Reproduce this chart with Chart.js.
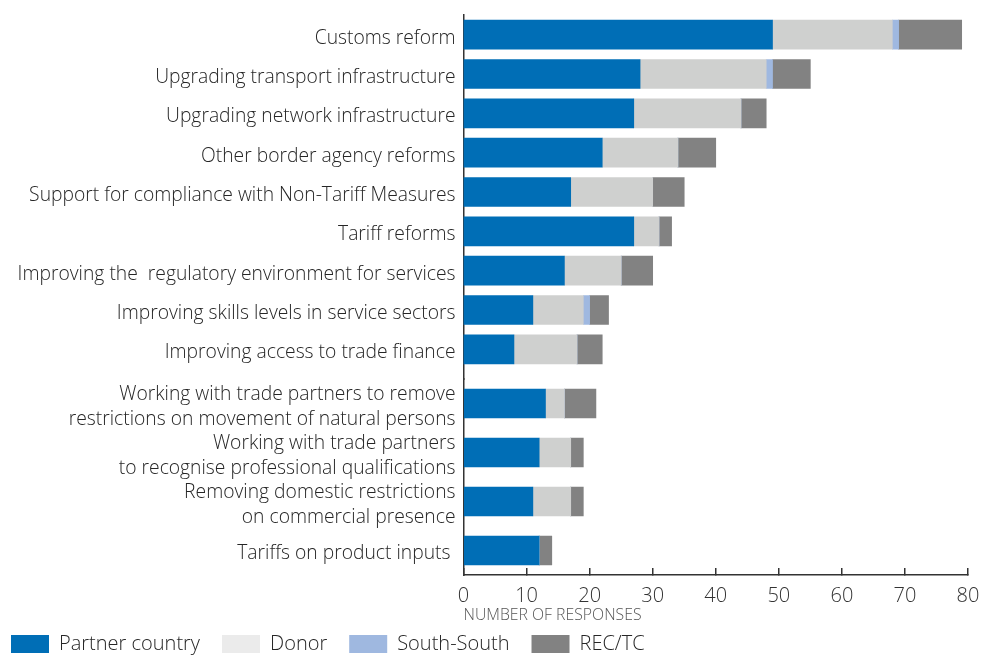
<!DOCTYPE html>
<html><head><meta charset="utf-8">
<script src="https://cdn.jsdelivr.net/npm/chart.js@4.4.1/dist/chart.umd.min.js"></script>
<style>
html,body{margin:0;padding:0;background:#fff;width:989px;height:656px;overflow:hidden}
#wrapA{position:absolute;left:0;top:0;width:989px;height:369px}
#wrapB{position:absolute;left:-11px;top:369px;width:1000px;height:295px}
</style></head><body>
<div id="wrapA"><canvas id="a"></canvas></div>
<div id="wrapB"><canvas id="b"></canvas></div>
<script>
const categories = [
  "Customs reform",
  "Upgrading transport infrastructure",
  "Upgrading network infrastructure",
  "Other border agency reforms",
  "Support for compliance with Non-Tariff Measures",
  "Tariff reforms",
  "Improving the  regulatory environment for services",
  "Improving skills levels in service sectors",
  "Improving access to trade finance",
  ["Working with trade partners to remove", "restrictions on movement of natural persons"],
  ["Working with trade partners", "to recognise professional qualifications"],
  ["Removing domestic restrictions", "on commercial presence"],
  "Tariffs on product inputs "
];
const partnerCountry = [49, 28, 27, 22, 17, 27, 16, 11, 8, 13, 12, 11, 12];
const donor          = [19, 20, 17, 12, 13,  4,  9,  8, 10,  3,  5,  6,  0];
const southSouth     = [ 1,  1,  0,  0,  0,  0,  0,  1,  0,  0,  0,  0,  0];
const recTc          = [10,  6,  4,  6,  5,  2,  5,  3,  4,  5,  2,  2,  2];
const seriesNames = ["Partner country", "Donor", "South-South", "REC/TC"];
const xTickValues = [0, 10, 20, 30, 40, 50, 60, 70, 80];
const axisTitle = "NUMBER OF RESPONSES";

const barColors = ["#006EB6", "#CFD0CF", "#9FB8E0", "#828282"];
const legendColors = ["#006EB6", "#EBEBEB", "#9FB8E0", "#828282"];
const FONT = "Open Sans";
const textColor = "#262626";
const SPLIT = 9;

function datasets(from, to) {
  return [partnerCountry, donor, southSouth, recTc].map((arr, i) => ({
    label: seriesNames[i],
    data: arr.slice(from, to),
    backgroundColor: barColors[i],
    borderWidth: 0,
    barThickness: 29,
    stack: "s"
  }));
}
function yScale(axisWidth) {
  return {
    type: "category", stacked: true, offset: true,
    grid: { display: false, drawTicks: false },
    border: { display: true, color: "#333", width: 1.5 },
    ticks: { autoSkip: false, padding: 8, labelOffset: 3.5, color: textColor, font: { family: FONT, size: 19.3, weight: 300, lineHeight: 1.27 } },
    afterFit: s => { s.width = axisWidth; s.paddingTop = 0; s.paddingBottom = 0; }
  };
}

new Chart(document.getElementById("a"), {
  type: "bar",
  data: { labels: categories.slice(0, SPLIT), datasets: datasets(0, SPLIT) },
  options: {
    indexAxis: "y", responsive: true, maintainAspectRatio: false, animation: false,
    layout: { padding: { top: 15, right: 21, left: 0, bottom: 0 } },
    plugins: { legend: { display: false }, tooltip: { enabled: false } },
    scales: {
      x: { type: "linear", stacked: true, min: 0, max: 80, display: false },
      y: yScale(463.5)
    }
  }
});

const gapLine = {
  id: "gapLine",
  afterDraw(chart) {
    const { ctx, chartArea } = chart;
    const x = Math.round(chartArea.left - 0.75) + 0.75;
    ctx.save();
    ctx.strokeStyle = "#333"; ctx.lineWidth = 1.5;
    ctx.beginPath();
    ctx.moveTo(x, 0);
    ctx.lineTo(x, chartArea.top + 1);
    ctx.stroke();
    ctx.restore();
  }
};

new Chart(document.getElementById("b"), {
  type: "bar",
  data: { labels: categories.slice(SPLIT), datasets: datasets(SPLIT) },
  plugins: [gapLine],
  options: {
    indexAxis: "y", responsive: true, maintainAspectRatio: false, animation: false,
    layout: { padding: { top: 10, right: 21, left: 0, bottom: 0 } },
    plugins: {
      tooltip: { enabled: false },
      legend: {
        display: true, position: "bottom", align: "start",
        labels: {
          boxWidth: 38, boxHeight: 18, padding: 22, color: textColor,
          font: { family: FONT, size: 20, weight: 300 },
          generateLabels: chart => chart.data.datasets.map((d, i) => ({
            text: d.label, fillStyle: legendColors[i], strokeStyle: legendColors[i],
            lineWidth: 0, hidden: false, datasetIndex: i, fontColor: textColor
          }))
        }
      }
    },
    scales: {
      x: {
        type: "linear", stacked: true, min: 0, max: 80, position: "bottom",
        afterBuildTicks: s => { s.ticks = xTickValues.map(v => ({ value: v })); },
        grid: { display: true, drawOnChartArea: false, drawTicks: true, tickLength: -7, color: "#333", lineWidth: 1.5 },
        border: { display: true, color: "#333", width: 1.5 },
        ticks: { padding: 16, color: "#333", font: { family: FONT, size: 20, weight: 300 } },
        title: { display: true, text: axisTitle, align: "start", color: "#555", font: { family: FONT, size: 15.8, weight: 300 }, padding: { top: 0, bottom: -12.5 } },
        afterFit: s => { s.height = 37; s.paddingLeft = 0; s.paddingRight = 0; }
      },
      y: yScale(474.5)
    }
  }
});
</script>
</body></html>
